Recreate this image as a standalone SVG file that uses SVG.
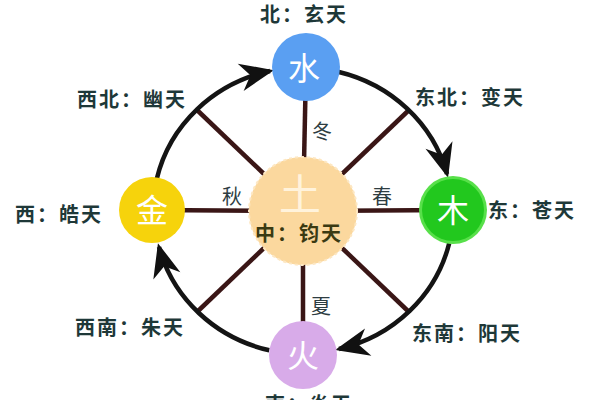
<svg xmlns="http://www.w3.org/2000/svg" width="600" height="400" viewBox="0 0 600 400">
<defs>
<style>
.lbl{font-family:"Noto Sans CJK SC","Noto Sans CJK TC",sans-serif;font-size:20px;font-weight:bold;fill:#1e3838;letter-spacing:2px}
.season{font-family:"Noto Sans CJK SC",sans-serif;font-size:20px;fill:#2e3d42}
.glyph{font-family:"Noto Sans CJK SC",sans-serif;font-size:32px;fill:#ffffff;text-anchor:middle}
.ring{fill:none;stroke:#141414;stroke-width:4.5}
.spoke{stroke:#3a1616;stroke-width:4.5}
</style>
<marker id="ah" markerUnits="userSpaceOnUse" markerWidth="40" markerHeight="40" viewBox="-34 -17 40 34" refX="0" refY="0" orient="auto">
<path d="M4,0 L-30,-14 L-20,0 L-30,14 Z" fill="#111"/>
</marker>
</defs>
<rect width="600" height="400" fill="#ffffff"/>
<g id="connectors">
<line class="spoke" x1="303" y1="211" x2="306" y2="67"/>
<line class="spoke" x1="303" y1="211" x2="303" y2="355"/>
<line class="spoke" x1="303" y1="211" x2="152" y2="210"/>
<line class="spoke" x1="303" y1="211" x2="453" y2="210"/>
<line class="spoke" x1="264" y1="174" x2="197" y2="110"/>
<line class="spoke" x1="342" y1="174" x2="409" y2="110"/>
<line class="spoke" x1="342" y1="248" x2="409" y2="312"/>
<line class="spoke" x1="264" y1="248" x2="197" y2="312"/>
<path class="ring" marker-end="url(#ah)" d="M156.8,178.8 A150,143 0 0 1 270,71"/>
<path class="ring" marker-end="url(#ah)" d="M338,71.7 A150,143 0 0 1 447,174"/>
<path class="ring" marker-end="url(#ah)" d="M449.2,243.2 A150,143 0 0 1 339,349"/>
<path class="ring" marker-end="url(#ah)" d="M269.3,350.3 A150,143 0 0 1 159,247"/>
</g>
<g id="seasons">
<text class="season" x="312" y="139">冬</text>
<text class="season" x="222" y="204">秋</text>
<text class="season" x="372" y="204">春</text>
<text class="season" x="311" y="314">夏</text>
</g>
<g id="tu">
<circle cx="303" cy="211" r="54" fill="#fbd89e" stroke="#fde7c2" stroke-width="2" stroke-dasharray="3 3"/>
<text class="glyph" x="300" y="210" style="font-size:42px;fill:#fff3dc">土</text>
<text class="lbl" x="255" y="241" style="fill:#3a3a12">中：钧天</text>
</g>
<g id="shui">
<circle cx="306" cy="67" r="34" fill="#5a9ff2"/>
<text class="glyph" x="304" y="80">水</text>
</g>
<g id="mu">
<circle cx="453" cy="210" r="34" fill="#58e04a"/>
<circle cx="453" cy="210" r="31" fill="#22c81e"/>
<text class="glyph" x="453" y="222">木</text>
</g>
<g id="jin">
<circle cx="152" cy="210" r="33" fill="#f6d30c"/>
<text class="glyph" x="152" y="222">金</text>
</g>
<g id="huo">
<circle cx="303" cy="355" r="34" fill="#d8abe9"/>
<text class="glyph" x="303" y="367">火</text>
</g>
<g id="labels">
<text class="lbl" x="260" y="22">北：玄天</text>
<text class="lbl" x="77" y="107">西北：幽天</text>
<text class="lbl" x="415" y="105">东北：变天</text>
<text class="lbl" x="15" y="222">西：皓天</text>
<text class="lbl" x="488" y="218">东：苍天</text>
<text class="lbl" x="75" y="335">西南：朱天</text>
<text class="lbl" x="412" y="341">东南：阳天</text>
<text class="lbl" x="265" y="412">南：炎天</text>
</g>
</svg>
